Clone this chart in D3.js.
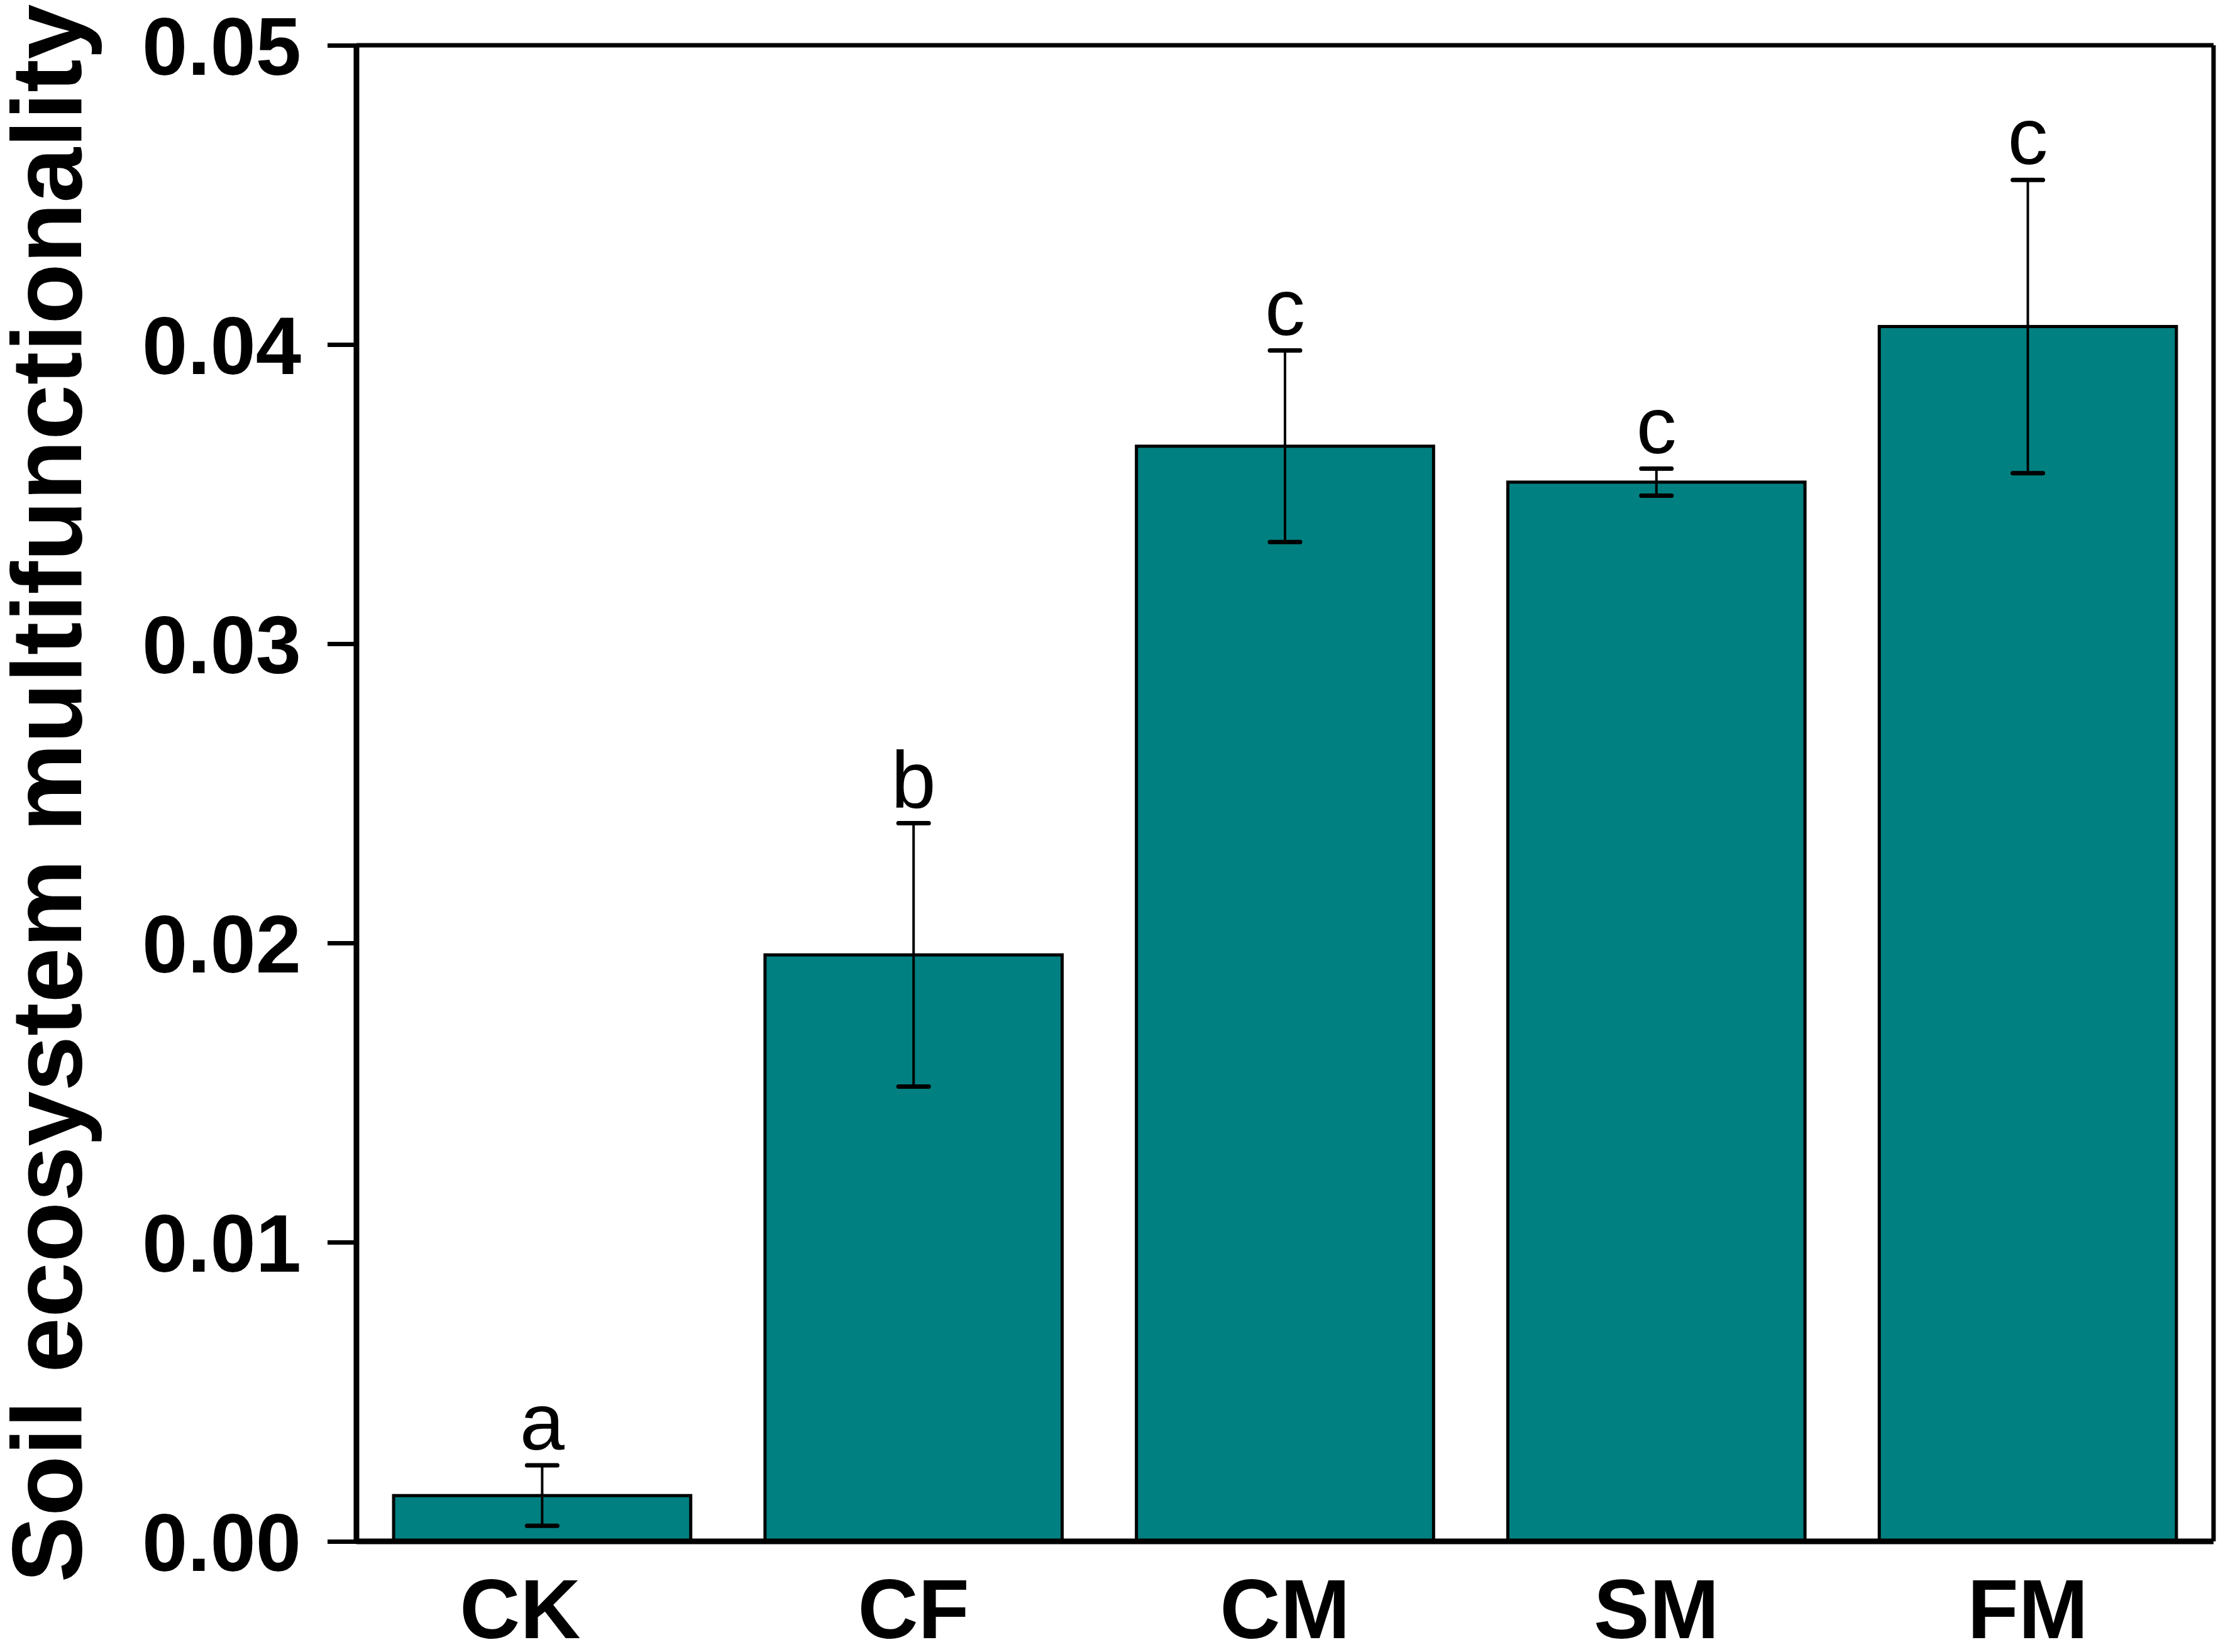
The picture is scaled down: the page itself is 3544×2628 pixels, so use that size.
<!DOCTYPE html>
<html>
<head>
<meta charset="utf-8">
<script src="https://cdn.jsdelivr.net/npm/d3@7.9.0/dist/d3.min.js"></script>
<style>
  body { margin: 0; background: #fff; }
  svg { display: block; font-family: "Liberation Sans", Arial, sans-serif; }
</style>
</head>
<body>
<svg id="chart" width="3544" height="2628"></svg>
<script>
// data
const treatments = ['CK', 'CF', 'CM', 'SM', 'FM'];
const means = [0.00153, 0.0196, 0.0366, 0.0354, 0.0406];
const errors = [0.00101, 0.0044, 0.0032, 0.00045, 0.0049];
const letters = ['a', 'b', 'c', 'c', 'c'];
const yTicks = [0, 0.01, 0.02, 0.03, 0.04, 0.05];

const margin = { top: 72, right: 23, bottom: 176, left: 567 };
const width = 3544 - margin.left - margin.right;
const height = 2628 - margin.top - margin.bottom;

const svg = d3.select('#chart');
svg.append('rect').attr('width', 3544).attr('height', 2628).attr('fill', '#fff');

const g = svg.append('g').attr('transform', `translate(${margin.left},${margin.top})`);

let x = d3.scaleBand().domain(treatments).range([0, width]).paddingInner(0.2).paddingOuter(0.1);
let y = d3.scaleLinear().domain([0, 0.05]).range([height, 0]);

// bars
g.selectAll('rect.bar')
    .data(treatments)
    .join('rect')
    .attr('class', 'bar')
    .attr('x', (d) => x(d))
    .attr('y', (d, i) => y(means[i]))
    .attr('width', x.bandwidth())
    .attr('height', (d, i) => y(0) - y(means[i]))
    .attr('fill', '#008080')
    .attr('stroke', '#000')
    .attr('stroke-width', 5);

// error bars + significance letters
const capW = 24;
treatments.forEach((t, i) => {
    let cx = x(t) + x.bandwidth() / 2;
    let hi = y(means[i] + errors[i]);
    let lo = y(means[i] - errors[i]);
    g.append('line').attr('x1', cx).attr('x2', cx).attr('y1', hi).attr('y2', lo)
        .attr('stroke', '#000').attr('stroke-width', 4);
    [hi, lo].forEach((yy) => {
        g.append('line').attr('x1', cx - capW).attr('x2', cx + capW).attr('y1', yy).attr('y2', yy)
            .attr('stroke', '#000').attr('stroke-width', 7).attr('stroke-linecap', 'round');
    });
    g.append('text')
        .attr('x', cx)
        .attr('y', hi - 25)
        .attr('text-anchor', 'middle')
        .attr('font-size', 128)
        .text(letters[i]);
});

// frame (top and right)
g.append('line').attr('x1', 0).attr('x2', width).attr('y1', 0).attr('y2', 0)
    .attr('stroke', '#000').attr('stroke-width', 7);
g.append('line').attr('x1', width).attr('x2', width).attr('y1', 0).attr('y2', height)
    .attr('stroke', '#000').attr('stroke-width', 7);

// y axis
let yAxis = g.append('g')
    .call(d3.axisLeft(y).tickValues(yTicks).tickFormat(d3.format('.2f')).tickSize(46).tickPadding(42));
yAxis.select('.domain').attr('stroke-width', 9).attr('d', `M0,${height}V0`);
yAxis.selectAll('.tick line').attr('stroke-width', 7);
yAxis.selectAll('text')
    .attr('font-size', 130)
    .attr('font-weight', 'bold')
    .attr('fill', '#000')
    .attr('dy', '0.36em');

// x axis (CK label sits a little left of its bar in the original)
let xAxis = g.append('g')
    .attr('transform', `translate(0,${height})`)
    .call(d3.axisBottom(x).tickSize(0));
xAxis.select('.domain').attr('stroke-width', 9).attr('d', `M0,0H${width}`);
xAxis.selectAll('text')
    .attr('x', (d) => (d === 'CK' ? -35 : 0))
    .attr('y', 154)
    .attr('dy', null)
    .attr('font-size', 133)
    .attr('font-weight', 'bold')
    .attr('fill', '#000');

// y title
svg.append('text')
    .attr('transform', `translate(129,${margin.top + height / 2}) rotate(-90)`)
    .attr('text-anchor', 'middle')
    .attr('font-size', 158)
    .attr('font-weight', 'bold')
    .text('Soil ecosystem multifunctionality');
</script>
</body>
</html>
